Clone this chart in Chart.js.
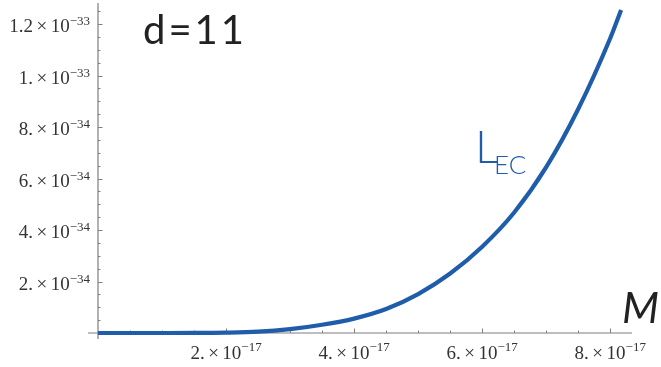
<!DOCTYPE html>
<html>
<head>
<meta charset="utf-8">
<script src="https://cdn.jsdelivr.net/npm/chart.js@4"></script>
<style>
    html, body { margin: 0; padding: 0; background: #fff; }
    #wrap { width: 661px; height: 367px; }
</style>
</head>
<body>
<div id="wrap"><canvas id="lumChart"></canvas></div>
<script>
// M in units of 1e-17, L_EC in units of 1e-34
const massValues = [0, 0.5, 1, 1.5, 2, 2.5, 3, 3.5, 4, 4.5, 5, 5.5, 6, 6.5, 7, 7.5, 8, 8.17];
const lumValues = [0, 0, 0.0003, 0.002, 0.013, 0.05, 0.15, 0.32, 0.56, 0.93, 1.51, 2.31, 3.35, 4.68, 6.44, 8.7, 11.45, 12.55];

const xTickValues = [2, 4, 6, 8];
const xTickMantissas = ["2.", "4.", "6.", "8."];
const xTickExponents = ["\u221217", "\u221217", "\u221217", "\u221217"];

const yTickValues = [2, 4, 6, 8, 10, 12];
const yTickMantissas = ["2.", "4.", "6.", "8.", "1.", "1.2"];
const yTickExponents = ["\u221234", "\u221234", "\u221234", "\u221234", "\u221233", "\u221233"];

const minorStep = 0.5;
const curveColor = "#1f5dab";
const axisColor = "#7f7f7f";
const textColor = "#222";

const mainFont = "19px 'Liberation Serif'";
const supFont = "13px 'Liberation Serif'";
const timesGap = 3.5;

// draws "m × 10^e" starting at left
function drawSci(ctx, mant, exp, left, base, supRise) {
    ctx.font = mainFont;
    ctx.fillText(mant, left, base);
    let x = left + ctx.measureText(mant).width + timesGap;
    ctx.fillText("\u00d7", x, base);
    x += ctx.measureText("\u00d7").width + timesGap;
    ctx.fillText("10", x, base);
    x += ctx.measureText("10").width;
    ctx.font = supFont;
    ctx.fillText(exp, x, base - supRise);
}

function sciWidth(ctx, mant, exp) {
    ctx.font = mainFont;
    let w = ctx.measureText(mant + "\u00d710").width + 2 * timesGap;
    ctx.font = supFont;
    return w + ctx.measureText(exp).width;
}

// Mathematica-like axes: lines through the origin, ticks pointing inward
const mmaAxes = {
    id: "mmaAxes",
    beforeDatasetsDraw(chart) {
        const ctx = chart.ctx;
        const xs = chart.scales.x;
        const ys = chart.scales.y;
        const x0 = xs.getPixelForValue(0);
        const y0 = ys.getPixelForValue(0);
        ctx.save();
        ctx.strokeStyle = axisColor;
        ctx.lineWidth = 1.2;
        ctx.beginPath();
        ctx.moveTo(xs.left, y0);
        ctx.lineTo(xs.right, y0);
        ctx.moveTo(x0, ys.bottom);
        ctx.lineTo(x0, ys.top);
        ctx.stroke();

        ctx.lineWidth = 1;
        ctx.beginPath();
        for (let v = minorStep; v <= xs.max; v += minorStep) {
            const px = Math.round(xs.getPixelForValue(v)) + 0.5;
            const len = xTickValues.includes(v) ? 4.5 : 2.5;
            ctx.moveTo(px, y0);
            ctx.lineTo(px, y0 - len);
        }
        for (let v = minorStep; v <= ys.max; v += minorStep) {
            const py = Math.round(ys.getPixelForValue(v)) + 0.5;
            const len = yTickValues.includes(v) ? 4.5 : 2.5;
            ctx.moveTo(x0, py);
            ctx.lineTo(x0 + len, py);
        }
        ctx.stroke();
        ctx.restore();
    },
    afterDatasetsDraw(chart) {
        const ctx = chart.ctx;
        const xs = chart.scales.x;
        const ys = chart.scales.y;
        const y0 = ys.getPixelForValue(0);
        ctx.save();
        ctx.fillStyle = "#333";
        ctx.textAlign = "left";
        ctx.textBaseline = "alphabetic";

        // x tick labels, centred under the tick
        xTickValues.forEach((v, i) => {
            const w = sciWidth(ctx, xTickMantissas[i], xTickExponents[i]);
            const left = xs.getPixelForValue(v) - w / 2;
            drawSci(ctx, xTickMantissas[i], xTickExponents[i], left, y0 + 26, 8);
        });

        // y tick labels, right aligned left of the axis
        yTickValues.forEach((v, i) => {
            const w = sciWidth(ctx, yTickMantissas[i], yTickExponents[i]);
            const right = xs.getPixelForValue(0) - 8;
            const py = ys.getPixelForValue(v);
            drawSci(ctx, yTickMantissas[i], yTickExponents[i], right - w, py + 8, 7);
        });

        // annotations
        ctx.fillStyle = textColor;
        ctx.letterSpacing = "3px";
        ctx.font = "40px Lato";
        ctx.fillText("d=11", 143, 44);
        ctx.letterSpacing = "0px";

        ctx.font = "italic 400 43px Lato";
        ctx.fillText("M", 622, 323);

        ctx.fillStyle = curveColor;
        ctx.font = "300 46px Lato";
        ctx.fillText("L", 475, 163);
        ctx.font = "300 26px Lato";
        ctx.fillText("EC", 494, 174);
        ctx.restore();
    },
};

new Chart(document.getElementById("lumChart"), {
    type: "line",
    data: {
        datasets: [
            {
                data: massValues.map((m, i) => ({ x: m, y: lumValues[i] })),
                borderColor: curveColor,
                borderWidth: 4.2,
                borderCapStyle: "butt",
                pointRadius: 0,
                fill: false,
                cubicInterpolationMode: "monotone",
            },
        ],
    },
    options: {
        responsive: true,
        maintainAspectRatio: false,
        animation: false,
        layout: { padding: { left: 88, right: 29, top: 3, bottom: 28 } },
        plugins: {
            legend: { display: false },
            tooltip: { enabled: false },
        },
        scales: {
            x: { type: "linear", min: -0.156, max: 8.34, display: false },
            y: { type: "linear", min: -0.233, max: 12.82, display: false },
        },
    },
    plugins: [mmaAxes],
});
</script>
</body>
</html>
